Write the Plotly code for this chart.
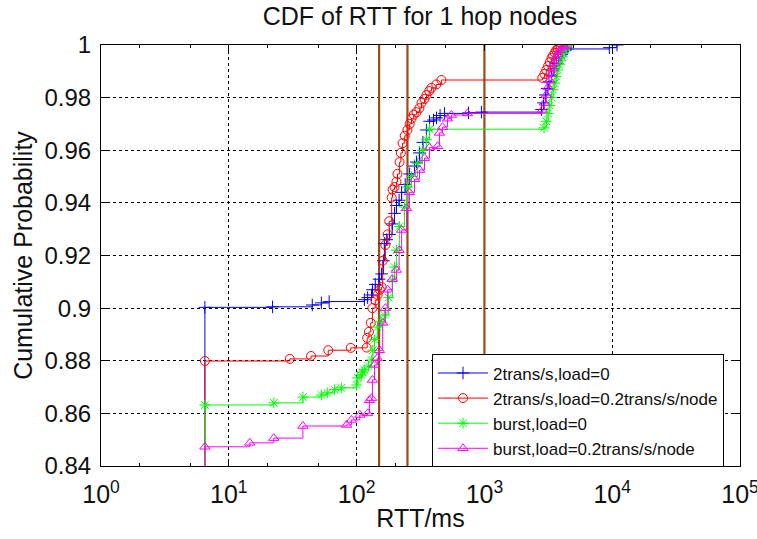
import plotly.graph_objects as go

# ---- data ----
blue_x = [6.5, 6.5, 22, 45, 53, 61, 115, 122, 131, 133, 140, 150, 157, 162, 165, 172, 181, 190, 198, 205,
          215, 225, 240, 260, 284, 294, 310, 330, 352, 372, 400, 422, 450, 487, 750, 948,
          2800, 2900, 3000, 3100, 3200, 3350, 3500, 3650, 3800, 3950, 4100, 4300, 4450, 9500, 10900]
blue_y = [0.80, 0.9003, 0.9005, 0.9012, 0.902, 0.9025, 0.9032, 0.904, 0.905, 0.907, 0.909, 0.911, 0.913, 0.918, 0.9245,
          0.926, 0.928, 0.932, 0.936, 0.939, 0.941, 0.944, 0.947, 0.951, 0.954, 0.9555, 0.959, 0.963, 0.9677,
          0.971, 0.9715, 0.9723, 0.9732, 0.974, 0.9742, 0.9745, 0.9755, 0.978, 0.981, 0.9835, 0.986, 0.9885,
          0.991, 0.993, 0.995, 0.9965, 0.9975, 0.998, 0.9985, 0.999, 1.0]

red_x = [6.5, 6.5, 30, 44, 60, 90, 120, 121, 125, 129, 133, 140, 146, 152, 157, 160, 168, 175, 180, 188,
         191, 198, 205, 209, 217, 222, 229, 238, 250, 260, 269, 280, 294, 310, 322, 340, 352, 370, 385, 420,
         461, 2840, 2950, 3050, 3150, 3250, 3350, 3450, 3550, 3650, 3750, 3850, 3950, 4070]
red_y = [0.80, 0.8799, 0.8807, 0.8818, 0.884, 0.8849, 0.885, 0.8887, 0.891, 0.8944, 0.9, 0.903, 0.905, 0.907,
         0.908, 0.918, 0.924, 0.928, 0.933, 0.942, 0.945, 0.946, 0.948, 0.951, 0.9555, 0.959, 0.9627, 0.9655,
         0.9677, 0.970, 0.972, 0.9735, 0.9745, 0.976, 0.978, 0.9795, 0.981, 0.9825, 0.9837, 0.985, 0.9867,
         0.9875, 0.989, 0.9905, 0.992, 0.9935, 0.995, 0.996, 0.997, 0.998, 0.9985, 0.999, 0.9995, 1.0]

green_x = [6.5, 6.5, 22.5, 38, 53, 59, 67, 76, 100, 102, 109, 111, 115, 124, 131, 134, 138, 146, 155, 165,
           178, 191, 198, 205, 217, 237, 250, 269, 300, 327, 352, 372,
           2930, 3050, 3150, 3250, 3350, 3450, 3550, 3650, 3750, 3850, 3950, 4050, 4150, 4250, 4400, 4600]
green_y = [0.80, 0.8632, 0.864, 0.8662, 0.867, 0.8678, 0.869, 0.8697, 0.8708, 0.8735, 0.8746, 0.8757, 0.8765,
           0.878, 0.8803, 0.884, 0.888, 0.8928, 0.895, 0.8974, 0.904, 0.9107, 0.9156, 0.922, 0.931, 0.9384,
           0.946, 0.95, 0.955, 0.96, 0.964, 0.968, 0.9685, 0.971, 0.974, 0.977, 0.98, 0.983, 0.9855, 0.988,
           0.9905, 0.9925, 0.994, 0.9955, 0.997, 0.998, 0.999, 1.0]

mag_x = [6.5, 6.5, 14.6, 22.5, 38, 83.5, 91, 106, 122, 126, 131, 133, 138, 145, 151, 160, 168, 175, 190, 205,
         215, 225, 246, 259, 284, 311, 340, 372, 430, 445, 470, 514, 552, 737,
         2840, 2950, 3050, 3150, 3250, 3350, 3450, 3550, 3650, 3750, 3900, 4050, 4200, 4450]
mag_y = [0.80, 0.8473, 0.8488, 0.8506, 0.8552, 0.8556, 0.8575, 0.8594, 0.86, 0.865, 0.8658, 0.8727, 0.8784,
         0.881, 0.884, 0.8944, 0.90, 0.907, 0.911, 0.9145, 0.922, 0.9297, 0.938, 0.944, 0.949, 0.9525, 0.957,
         0.961, 0.9615, 0.9666, 0.9688, 0.972, 0.9734, 0.974, 0.9753, 0.978, 0.981, 0.984, 0.9865, 0.989,
         0.991, 0.993, 0.995, 0.9965, 0.998, 0.999, 0.9995, 1.0]

threshold_x = [150, 250, 1000]

series_names = ["2trans/s,load=0", "2trans/s,load=0.2trans/s/node", "burst,load=0", "burst,load=0.2trans/s/node"]

x_tickvals = [1, 10, 100, 1000, 10000, 100000]
x_ticktext = ["10<sup>0</sup>", "10<sup>1</sup>", "10<sup>2</sup>", "10<sup>3</sup>", "10<sup>4</sup>", "10<sup>5</sup>"]
y_tickvals = [0.84, 0.86, 0.88, 0.90, 0.92, 0.94, 0.96, 0.98, 1.0]
y_ticktext = ["0.84", "0.86", "0.88", "0.9", "0.92", "0.94", "0.96", "0.98", "1"]

FONT = "Arial, 'Liberation Sans', sans-serif"

fig = go.Figure()

# threshold lines
for tx in threshold_x:
    fig.add_trace(go.Scatter(x=[tx, tx], y=[0.80, 1.05], mode="lines",
                             line=dict(color="#9C4A1A", width=2.2), showlegend=False, hoverinfo="skip"))

styles = [
    (blue_x, blue_y, "#0000FF", "cross-thin-open"),
    (red_x, red_y, "#FF0000", "circle-open"),
    (green_x, green_y, "#00FF00", "asterisk-open"),
    (mag_x, mag_y, "#FF00FF", "triangle-up-open"),
]
for (xs, ys, c, sym), name in zip(styles, series_names):
    fig.add_trace(go.Scatter(
        x=xs, y=ys, mode="lines+markers", name=name,
        line=dict(color=c, width=1, shape="hv"),
        marker=dict(symbol=sym, size=9, color=c, line=dict(color=c, width=1)),
    ))

fig.update_layout(
    width=757, height=539,
    margin=dict(l=101, r=17, t=45, b=73),
    paper_bgcolor="white", plot_bgcolor="white",
    font=dict(family=FONT, color="black"),
    title=dict(text="CDF of RTT for 1 hop nodes", x=420 / 757, xanchor="center",
               y=1 - 16 / 539, yanchor="middle", font=dict(size=25, family=FONT, color="#111111")),
    legend=dict(x=0.518, y=0.265, xanchor="left", yanchor="top", bgcolor="white",
                bordercolor="black", borderwidth=1, font=dict(size=17, family=FONT, color="#111111"),
                itemwidth=50, tracegroupgap=0),
)

fig.update_xaxes(
    type="log", range=[0, 5], tickvals=x_tickvals, ticktext=x_ticktext,
    ticks="inside", ticklen=6, tickcolor="black", showline=True, linecolor="black", linewidth=1,
    mirror="allticks", showgrid=True, gridcolor="black", gridwidth=1, griddash="3px,3px",
    minor=dict(ticks="inside", ticklen=3, tickcolor="black", showgrid=False),
    tickfont=dict(size=25, family=FONT, color="#111111"), ticklabelstandoff=6, zeroline=False,
    ticklabeloverflow="allow", automargin=False,
    title=dict(text="RTT/ms", font=dict(size=25, family=FONT, color="#111111"), standoff=2),
)
fig.update_yaxes(
    range=[0.84, 1.0], tickvals=y_tickvals, ticktext=y_ticktext,
    ticks="inside", ticklen=6, tickcolor="black", showline=True, linecolor="black", linewidth=1,
    mirror="allticks", showgrid=True, gridcolor="black", gridwidth=1, griddash="3px,3px",
    tickfont=dict(size=24, family=FONT, color="#111111"), zeroline=False, ticklabelstandoff=4,
    automargin=False,
    title=dict(text="Cumulative Probability", font=dict(size=25, family=FONT, color="#111111"), standoff=4),
)

fig.write_html("out.html")
